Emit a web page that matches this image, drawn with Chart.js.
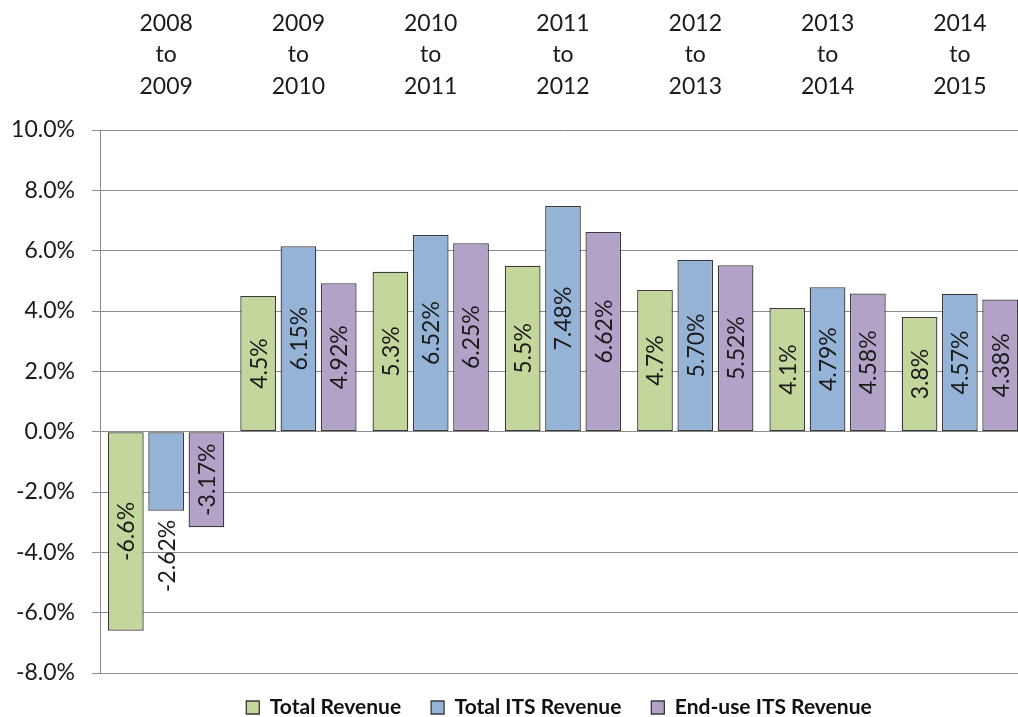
<!DOCTYPE html>
<html>
<head>
<meta charset="utf-8">
<script src="https://cdn.jsdelivr.net/npm/chart.js@4"></script>
<style>
  html, body { margin: 0; padding: 0; background: #fff; overflow: hidden; }
  #wrap { width: 1026px; height: 717px; }
</style>
</head>
<body>
<div id="wrap"><canvas id="c" width="1026" height="717"></canvas></div>
<script>
const categories = [
  ["2008", "to", "2009"],
  ["2009", "to", "2010"],
  ["2010", "to", "2011"],
  ["2011", "to", "2012"],
  ["2012", "to", "2013"],
  ["2013", "to", "2014"],
  ["2014", "to", "2015"]
];
const seriesNames = ["Total Revenue", "Total ITS Revenue", "End-use ITS Revenue"];
const totalRevenue = [-6.6, 4.5, 5.3, 5.5, 4.7, 4.1, 3.8];
const totalITSRevenue = [-2.62, 6.15, 6.52, 7.48, 5.70, 4.79, 4.57];
const endUseITSRevenue = [-3.17, 4.92, 6.25, 6.62, 5.52, 4.58, 4.38];
const labelDecimals = [1, 2, 2];
const yTicks = [-8, -6, -4, -2, 0, 2, 4, 6, 8, 10];

const FONT = "Lato, 'Open Sans', sans-serif";
const TEXT = "#1a1a1a";
const colors = ["#c3d69b", "#95b3d7", "#b3a2c7"];

const labelPlugin = {
  id: "barLabels",
  afterDatasetsDraw(chart) {
    const ctx = chart.ctx;
    ctx.save();
    ctx.font = "23px " + FONT;
    ctx.fillStyle = TEXT;
    ctx.textAlign = "center";
    ctx.textBaseline = "middle";
    chart.data.datasets.forEach((ds, di) => {
      const meta = chart.getDatasetMeta(di);
      meta.data.forEach((el, i) => {
        const v = ds.data[i];
        const txt = v.toFixed(labelDecimals[di]) + "%";
        const tw = ctx.measureText(txt).width;
        const h = Math.abs(el.base - el.y);
        let cy;
        if (tw + 20 <= h) {
          cy = (el.y + el.base) / 2;
        } else if (v < 0) {
          cy = el.y + 9 + tw / 2;
        } else {
          cy = el.y - 9 - tw / 2;
        }
        ctx.save();
        ctx.translate(el.x + 1, cy);
        ctx.rotate(-Math.PI / 2);
        ctx.fillText(txt, 0, 0);
        ctx.restore();
      });
    });
    ctx.restore();
  }
};

// nudge the legend box so it sits like the original (slightly up and left)
const legendNudge = {
  id: "legendNudge",
  afterLayout(chart) {
    const lg = chart.legend;
    if (!lg) return;
    lg.top -= 6;
    lg.left -= 4; lg.right -= 4;
  }
};

const datasets = [totalRevenue, totalITSRevenue, endUseITSRevenue].map((d, i) => ({
  label: seriesNames[i],
  data: d,
  backgroundColor: colors[i],
  borderColor: "#3a3a3a",
  borderWidth: 1.3,
  borderSkipped: false,
  categoryPercentage: 0.914,
  barPercentage: 0.886
}));

new Chart(document.getElementById("c"), {
  type: "bar",
  data: { labels: categories, datasets },
  plugins: [labelPlugin, legendNudge],
  options: {
    responsive: false,
    animation: false,
    layout: { padding: { left: 0, right: 0, top: 0, bottom: 0 } },
    plugins: {
      tooltip: { enabled: false },
      legend: {
        position: "bottom",
        fullSize: false,
        maxHeight: 44,
        labels: {
          font: { family: FONT, size: 21, weight: "bold" },
          color: "#111",
          boxWidth: 13,
          boxHeight: 13,
          padding: 30
        }
      }
    },
    scales: {
      x: {
        position: "top",
        grid: { display: false, drawTicks: false },
        border: { display: false },
        ticks: {
          font: { family: FONT, size: 23, lineHeight: 1.37 },
          color: TEXT,
          padding: 28,
          maxRotation: 0,
          autoSkip: false
        },
        afterFit(scale) { scale.height = 130; }
      },
      y: {
        min: -8,
        max: 10,
        afterBuildTicks(scale) { scale.ticks = yTicks.map(v => ({ value: v })); },
        grid: { color: "#8c8c8c", lineWidth: 1, tickLength: 8, drawTicks: true },
        border: { display: true, color: "#8c8c8c", width: 1 },
        ticks: {
          font: { family: FONT, size: 23 },
          color: TEXT,
          padding: 17,
          callback: v => v.toFixed(1) + "%"
        },
        afterFit(scale) { scale.width = 100; }
      }
    }
  }
});
</script>
</body>
</html>
